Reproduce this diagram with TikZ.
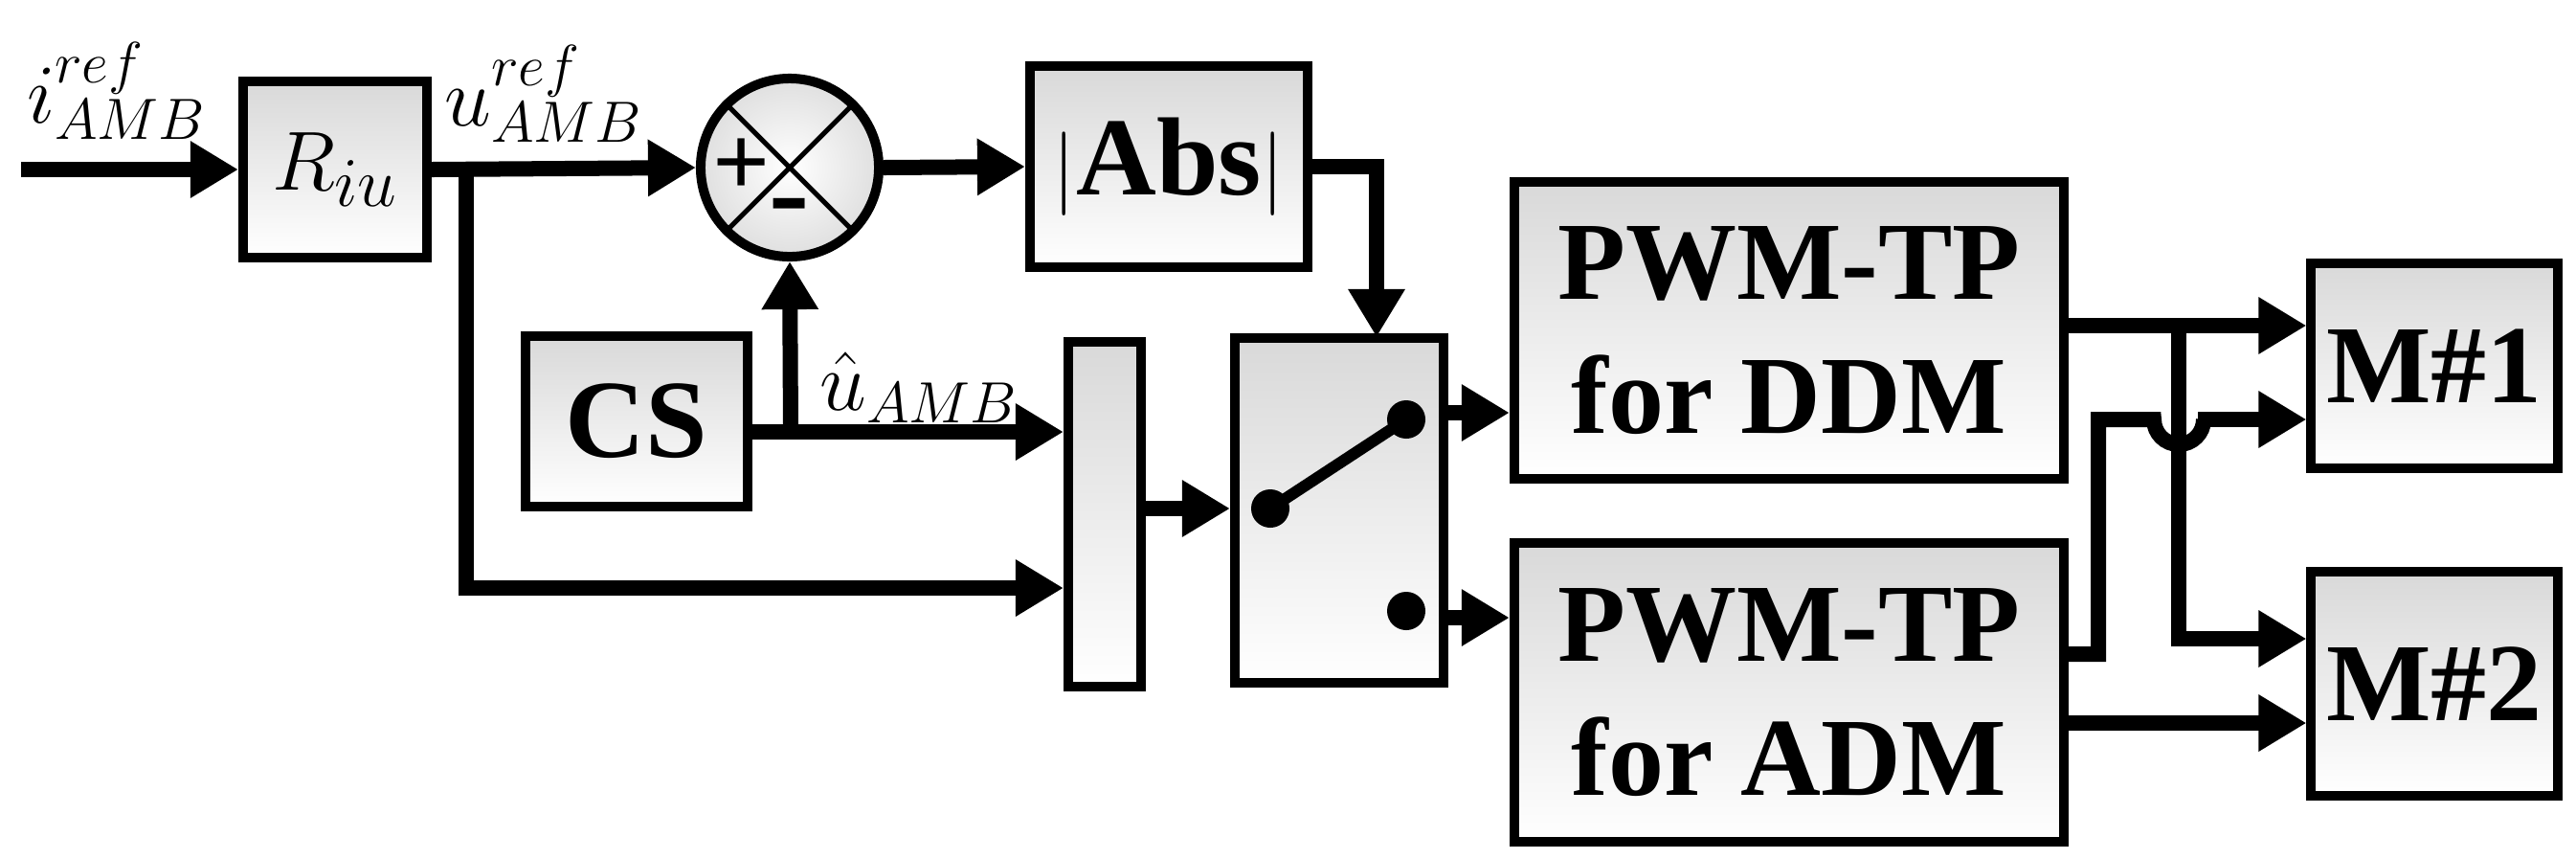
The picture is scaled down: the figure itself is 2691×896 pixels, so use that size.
\documentclass[tikz,border=0pt]{standalone}
\usepackage{fontspec}
\setmainfont{Liberation Serif}
\usepackage{tikz}
\usetikzlibrary{arrows.meta}

\tikzset{
  block/.style={draw, line width=0.1cm, top color=gray!30, bottom color=white,
    inner sep=0pt, font=\fontsize{33}{40}\selectfont\bfseries, align=center},
  wire/.style={line width=0.16cm, -{Triangle[length=0.5cm, width=0.56cm]}},
  line/.style={line width=0.16cm, line join=miter},
  lbl/.style={font=\fontsize{27}{30}\selectfont, inner sep=0pt},
}

\begin{document}
\begin{tikzpicture}[x=0.01cm, y=-0.01cm]
    \useasboundingbox (0,0) rectangle (2691,896);

    % Blocks
    \node[block, minimum width=1.92cm, minimum height=1.83cm] (riu) at (350,177) {};
    \node[font=\fontsize{32}{36}\selectfont] at (350,177) {$R_{iu}$};
    \node[block, minimum width=2.9cm, minimum height=2.1cm] (abs) at (1221,174) {$|$Abs$|$};
    \node[block, minimum width=2.32cm, minimum height=1.78cm] (cs) at (665,440) {CS};
    \node[block, minimum width=0.76cm, minimum height=3.6cm] (mux) at (1154,537) {};
    \node[block, minimum width=2.18cm, minimum height=3.6cm] (sw) at (1399,533) {};
    \node[block, minimum width=5.74cm, minimum height=3.1cm] (ddm) at (1869,345) {PWM-TP\\for DDM};
    \node[block, minimum width=5.74cm, minimum height=3.12cm] (adm) at (1869,723) {PWM-TP\\for ADM};
    \node[block, minimum width=2.57cm, minimum height=2.14cm] (m1) at (2543,382) {M\#1};
    \node[block, minimum width=2.57cm, minimum height=2.33cm] (m2) at (2543,714) {M\#2};

    % Summation point
    \node[draw, circle, line width=0.1cm, minimum size=1.86cm, inner sep=0pt,
      inner color=white, outer color=gray!25] (sum) at (825,175) {};
    \draw[line width=0.05cm] (sum.45) -- (sum.225) (sum.135) -- (sum.315);
    \node[font=\fontsize{30}{30}\selectfont\bfseries] at ([xshift=-0.5cm]sum.center) {+};
    \node[font=\fontsize{36}{36}\selectfont\bfseries] at ([yshift=-0.5cm]sum.center) {-};

    % Switch contacts
    \coordinate (piv) at (1327,531);
    \coordinate (up) at (1469,438);
    \coordinate (dn) at (1469,638);
    \draw[line width=0.12cm] (piv) -- (up);
    \fill (piv) circle (0.2cm) (up) circle (0.2cm) (dn) circle (0.2cm);

    % Labels
    \node[lbl] at (122,95) {$i^{ref}_{AMB}$};
    \node[lbl] at (568,98) {$u^{ref}_{AMB}$};
    \node[lbl] at (960,405) {$\hat{u}_{AMB}$};

    % Connections
    \coordinate (in) at (22,177);
    \coordinate (br1) at (487,177);
    \coordinate (br2) at (826,451);
    \coordinate (br3) at (2276,340);
    \draw[wire] (in) -- (riu.west);
    \draw[wire] (riu.east) -- (sum.west);
    \draw[wire] (sum.east) -- (abs.west);
    \draw[wire] (abs.east) -| (1438,352);
    \draw[wire] (br1) |- (mux.west |- 0,614);
    \draw[wire] (cs.east |- br2) -- (mux.west |- br2);
    \draw[wire] (br2) -- (sum.south);
    \draw[wire] (mux.east |- piv) -- (sw.west |- piv);
    \draw[wire] (sw.east |- 0,431) -- (ddm.west |- 0,431);
    \draw[wire] (sw.east |- 0,645) -- (adm.west |- 0,645);
    \draw[wire] (ddm.east |- br3) -- (m1.west |- br3);
    \draw[wire] (br3) |- (m2.west |- 0,667);
    \draw[wire] (adm.east |- 0,755) -- (m2.west |- 0,755);
    \draw[line] (adm.east |- 0,683) -| (2192,438) -- (2250,438)
      arc[start angle=180, end angle=360, radius=0.26cm] -- (2300,438);
    \draw[wire] (2296,438) -- (m1.west |- 0,438);

\end{tikzpicture}
\end{document}
